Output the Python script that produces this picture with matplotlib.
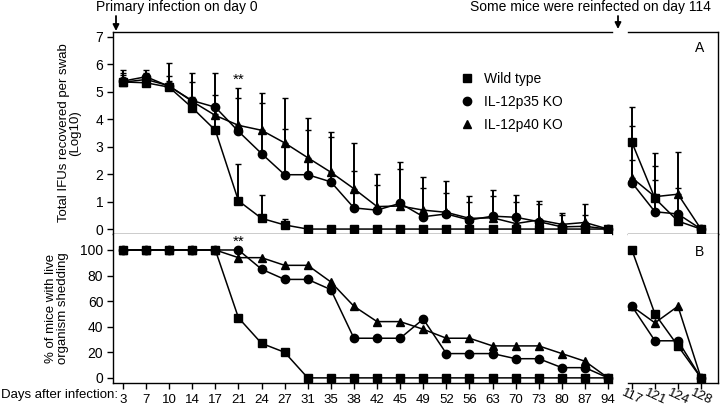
import numpy as np
import matplotlib.pyplot as plt
import matplotlib as mpl

mpl.rcParams.update({
    "font.family": ["Liberation Sans", "DejaVu Sans"],
    "font.size": 9.5,
    "axes.linewidth": 1.0,
    "xtick.major.width": 1.0,
    "ytick.major.width": 1.0,
    "xtick.major.size": 4,
    "ytick.major.size": 4,
})

# ---- data ---------------------------------------------------------------
days_primary = [3, 7, 10, 14, 17, 21, 24, 27, 31, 35, 38, 42, 45, 49, 52,
                56, 63, 70, 73, 80, 87, 94]
days_reinf = [117, 121, 124, 128]

# log10 IFUs, primary infection
wt_ifu = [5.36, 5.33, 5.17, 4.42, 3.60, 1.03, 0.39, 0.15, 0, 0, 0, 0, 0, 0,
          0, 0, 0, 0, 0, 0, 0, 0]
p35_ifu = [5.39, 5.55, 5.20, 4.68, 4.44, 3.56, 2.75, 1.98, 1.98, 1.72, 0.77,
           0.69, 0.94, 0.45, 0.55, 0.33, 0.47, 0.43, 0.27, 0.08, 0.10, 0]
p40_ifu = [5.35, 5.45, 5.22, 4.65, 4.14, 3.78, 3.60, 3.14, 2.60, 2.07, 1.47,
           0.82, 0.84, 0.69, 0.61, 0.39, 0.41, 0.20, 0.33, 0.17, 0.24, 0]
# upper error bar tops
wt_top = [5.60, 5.50, 5.40, 4.80, 4.20, 2.37, 1.24, 0.38, 0, 0, 0, 0, 0, 0,
          0, 0, 0, 0, 0, 0, 0, 0]
p35_top = [5.79, 5.79, 5.57, 5.35, 5.67, 4.78, 4.60, 3.63, 3.60, 3.35, 2.10,
           1.60, 2.46, 1.50, 1.30, 1.00, 1.20, 1.24, 0.90, 0.50, 0.50, 0]
p40_top = [5.70, 5.70, 6.06, 5.69, 4.90, 5.15, 4.96, 4.78, 4.03, 3.54, 3.14,
           2.02, 2.20, 1.91, 1.76, 1.22, 1.42, 1.00, 1.02, 0.57, 0.90, 0]

# log10 IFUs, reinfection
wt_ifu_r = [3.16, 1.12, 0.29, 0]
p35_ifu_r = [1.69, 0.63, 0.55, 0]
p40_ifu_r = [1.87, 1.18, 1.27, 0]
wt_top_r = [4.43, 2.30, 0.50, 0]
p35_top_r = [2.50, 1.80, 1.50, 0]
p40_top_r = [3.76, 2.76, 2.79, 0]

# % of mice shedding
wt_pct = [100, 100, 100, 100, 100, 47, 27, 20, 0, 0, 0, 0, 0, 0, 0, 0, 0,
          0, 0, 0, 0, 0]
p35_pct = [100, 100, 100, 100, 100, 100, 85, 77, 77, 69, 31, 31, 31, 46,
           19, 19, 19, 15, 15, 8, 8, 0]
p40_pct = [100, 100, 100, 100, 100, 94, 94, 88, 88, 75, 56, 44, 44, 38,
           31, 31, 25, 25, 25, 19, 13, 0]
wt_pct_r = [100, 50, 25, 0]
p35_pct_r = [56, 29, 29, 0]
p40_pct_r = [56, 43, 56, 0]

W, H = 720, 408
fig = plt.figure(figsize=(W / 100, H / 100), dpi=100)


def px_axes(x0, x1, y0, y1):
    return fig.add_axes([x0 / W, 1 - y1 / H, (x1 - x0) / W, (y1 - y0) / H])


ax_tl = px_axes(113, 612, 32, 234)
ax_bl = px_axes(113, 612, 234, 383)
ax_tr = px_axes(628, 718, 32, 234)
ax_br = px_axes(628, 718, 234, 383)

styles = [("s", "Wild type"), ("o", "IL-12p35 KO"), ("^", "IL-12p40 KO")]
msize = {"s": 5.5, "o": 6, "^": 6}


def plot_series(ax, x, ys, tops=None):
    for i, ((m, lab), y) in enumerate(zip(styles, ys)):
        if tops is not None:
            up = np.array(tops[i]) - np.array(y)
            up = np.clip(up, 0, None)
            ax.errorbar(x, y, yerr=[np.zeros_like(up), up], fmt="none",
                        ecolor="black", elinewidth=1.4, capsize=2.5,
                        capthick=1.0, zorder=2)
        ax.plot(x, y, color="black", lw=1.1, marker=m, ms=msize[m],
                label=lab, zorder=3, clip_on=False)


xp = np.arange(len(days_primary))
xr = np.arange(len(days_reinf))

plot_series(ax_tl, xp, [wt_ifu, p35_ifu, p40_ifu], [wt_top, p35_top, p40_top])
plot_series(ax_tr, xr, [wt_ifu_r, p35_ifu_r, p40_ifu_r],
            [wt_top_r, p35_top_r, p40_top_r])
plot_series(ax_bl, xp, [wt_pct, p35_pct, p40_pct])
plot_series(ax_br, xr, [wt_pct_r, p35_pct_r, p40_pct_r])

for ax in (ax_tl, ax_bl):
    ax.set_xlim(-0.43, len(days_primary) - 1 + 0.17)
for ax in (ax_tr, ax_br):
    ax.set_xlim(-0.17, 3.74)
for ax in (ax_tl, ax_tr):
    ax.set_ylim(-0.18, 7.18)
for ax in (ax_bl, ax_br):
    ax.set_ylim(-4, 112.5)

# spines
ax_tl.spines["right"].set_visible(False)
ax_bl.spines["right"].set_visible(False)
ax_bl.spines["top"].set_visible(False)
ax_tr.spines["left"].set_visible(False)
ax_br.spines["left"].set_visible(False)
ax_br.spines["top"].set_visible(False)

ax_tl.set_xticks([])
ax_tr.set_xticks([])
ax_tr.set_yticks([])
ax_br.set_yticks([])
ax_tl.set_yticks(range(0, 8))
ax_bl.set_yticks(range(0, 101, 20))
ax_tl.tick_params(axis="y", labelsize=10, pad=3)
ax_bl.tick_params(axis="y", labelsize=10, pad=3)

ax_bl.set_xticks(xp)
ax_bl.set_xticklabels(days_primary, fontsize=9.5)
ax_bl.tick_params(axis="x", pad=4)
ax_br.set_xticks(xr)
ax_br.set_xticklabels(days_reinf, fontsize=9.5)
for t in ax_br.get_xticklabels():
    t.set_rotation(-25)
    t.set_rotation_mode("anchor")
    t.set_ha("center")
    t.set_va("center")
ax_br.tick_params(axis="x", pad=6)

ax_tl.set_ylabel("Total IFUs recovered per swab\n(Log10)", fontsize=9.5,
                 linespacing=1.0, labelpad=10)
ax_bl.set_ylabel("% of mice with live\norganism shedding", fontsize=9.5,
                 linespacing=1.0, labelpad=8)

fig.text(1 / W, 1 - 395 / H, "Days after infection:", fontsize=9.5,
         ha="left", va="center")

# significance marks
ax_tl.text(5, 5.2, "**", ha="center", va="bottom", fontsize=11)
ax_bl.text(5, 101, "**", ha="center", va="bottom", fontsize=11)

# panel letters
ax_tr.text(0.80, 0.92, "A", transform=ax_tr.transAxes, ha="center",
           va="center", fontsize=10)
ax_br.text(0.80, 0.88, "B", transform=ax_br.transAxes, ha="center",
           va="center", fontsize=10)

# legend
leg = ax_tl.legend(loc="upper left", bbox_to_anchor=(0.69, 0.83),
                   frameon=False, handlelength=0.6, handletextpad=0.9,
                   labelspacing=0.65, fontsize=10, borderaxespad=0)
for h in leg.legend_handles:
    h.set_linestyle("none")

# arrows / annotations
fig.text(177 / W, 1 - 7 / H, "Primary infection on day 0", ha="center",
         va="center", fontsize=10)
fig.text(711 / W, 1 - 7 / H, "Some mice were reinfected on day 114",
         ha="right", va="center", fontsize=10)
for xa, ya0, ya1 in ((116, 16, 31), (618, 16, 29)):
    fig.add_artist(mpl.patches.FancyArrowPatch(
        (xa / W, 1 - ya0 / H), (xa / W, 1 - ya1 / H),
        transform=fig.transFigure, arrowstyle="-|>", mutation_scale=9,
        color="black", lw=1.3, shrinkA=0, shrinkB=0))

fig.savefig("out.png", dpi=100, facecolor="white")
